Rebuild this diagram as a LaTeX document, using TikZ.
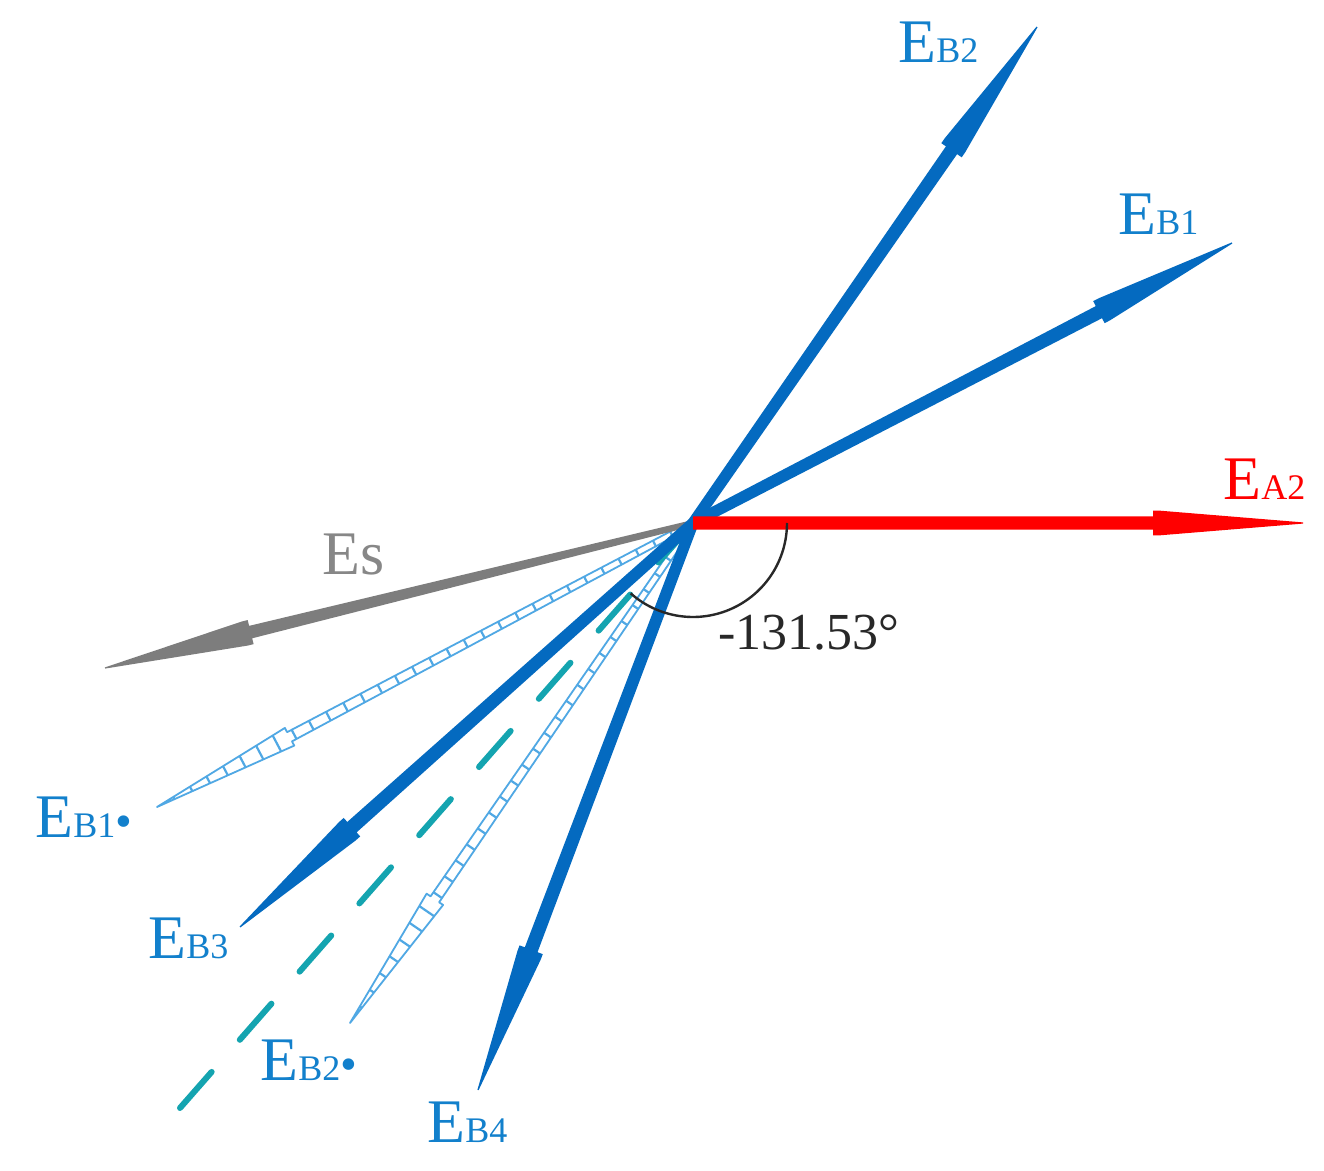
\documentclass[tikz,border=0pt]{standalone}
\usepackage{fontspec}
\setmainfont{Liberation Serif}
\usetikzlibrary{calc}
\definecolor{vblue}{RGB}{4,106,192}
\definecolor{lblue}{RGB}{18,128,204}
\definecolor{hblue}{RGB}{80,168,228}
\definecolor{vteal}{RGB}{20,164,176}
\definecolor{vgray}{RGB}{125,125,125}
\definecolor{lgray}{RGB}{135,135,135}
\definecolor{vred}{RGB}{255,0,0}
\definecolor{arcgray}{RGB}{40,40,40}
\newcommand\subsc[1]{{\fontsize{18}{18}\selectfont #1}}
\newcommand\bigdot{{\fontsize{24}{24}\selectfont •}}
% solid tapered vector: #1 colour, #2 origin, #3 tip, #4 half width at origin, #5 half width at head base
\newcommand\solidvec[5]{%
  \coordinate (vb) at ($(#3)!75pt!(#2)$);
  \coordinate (vc) at ($(vb)!3pt!(#3)$);
  \fill[#1] ($(#2)!#4!90:(vb)$) -- ($(vb)!#5!90:(#3)$) -- ($(vb)!6.2pt!90:(#3)$)
    -- ($(vc)!6.2pt!90:(#3)$) -- ($(#3)!0.3pt!-90:(vb)$) -- ($(#3)!0.3pt!90:(vb)$) -- ($(vc)!6.2pt!-90:(#3)$)
    -- ($(vb)!6.2pt!-90:(#3)$) -- ($(vb)!#5!-90:(#3)$) -- ($(#2)!#4!-90:(vb)$) -- cycle;
}
% hatched outline vector: #1 origin, #2 tip
\newcommand\hatchvec[2]{%
  \coordinate (hb) at ($(#2)!75pt!(#1)$);
  \draw[hatch] ($(#1)!1.5pt!90:(hb)$) -- ($(hb)!2.6pt!90:(#2)$) -- ($(hb)!5pt!90:(#2)$)
    -- (#2) -- ($(hb)!5pt!-90:(#2)$) -- ($(hb)!2.6pt!-90:(#2)$) -- ($(#1)!1.5pt!-90:(hb)$) -- cycle;
  \foreach \t in {0.04,0.072,...,0.97} {
    \pgfmathsetmacro{\hw}{(\t<0.752) ? (1.5+1.1*\t/0.752) : (5*(1-\t)/0.248)}
    \coordinate (hp) at ($(#1)!\t!(#2)$);
    \draw[hatch, line width=1.1pt] ($(hp)!\hw pt!90:(#2)$) -- ($(hp)!\hw pt!-90:(#2)$);
  }
}
\begin{document}
\begin{tikzpicture}[x=0.5pt,y=-0.5pt,
  lab/.style={anchor=base west, inner sep=0pt, font=\fontsize{31}{31}\selectfont},
  hatch/.style={draw=hblue, line width=0.9pt, line join=round},
  tealdash/.style={draw=vteal, line width=3pt, line cap=round, dash pattern=on 24pt off 21.35pt},
  arcline/.style={draw=arcgray, line width=1.2pt}]
\useasboundingbox (0,0) rectangle (1324,1171);
\fill[white] (0,0) rectangle (1324,1171);

\coordinate (O) at (693,523);
\coordinate (tEB2) at (1037,27);
\coordinate (tEB1) at (1232,243);
\coordinate (tEA2) at (1303,523);
\coordinate (tES) at (105,668);
\coordinate (tEB3) at (240,927);
\coordinate (tEB4) at (478,1090);
\coordinate (tEB1s) at (157,807);
\coordinate (tEB2s) at (350,1023);
\coordinate (tDash) at (180,1108);

% hatched (conjugate) vectors
\hatchvec{O}{tEB1s}
\hatchvec{O}{tEB2s}

% dashed reference line
\draw[tealdash] (tDash) -- (O);

% gray vector
\solidvec{vgray}{O}{tES}{1.5pt}{3.2pt}

% blue vectors
\solidvec{vblue}{O}{tEB2}{2.8pt}{3.4pt}
\solidvec{vblue}{O}{tEB1}{2.8pt}{3.4pt}
\solidvec{vblue}{O}{tEB3}{2.8pt}{3.5pt}
\solidvec{vblue}{O}{tEB4}{2.8pt}{3.4pt}

% red vector
\solidvec{vred}{O}{tEA2}{3.3pt}{3.3pt}

% angle arc
\draw[arcline] plot[domain=0:131.53, samples=80, smooth] ({693+94*cos(\x)},{523+94*sin(\x)});

% labels
\node[lab, text=lblue] (lEB2) at (898,63) {E\subsc{B2}};
\node[lab, text=lblue] (lEB1) at (1118,235) {E\subsc{B1}};
\node[lab, text=vred] (lEA2) at (1223,500) {E\subsc{A2}};
\node[lab, text=lgray] (lES) at (322,575) {Es};
\node[lab, text=lblue] (lEB1s) at (35,837) {E\subsc{B1}\bigdot};
\node[lab, text=lblue] (lEB3) at (148,958) {E\subsc{B3}};
\node[lab, text=lblue] (lEB2s) at (260,1080) {E\subsc{B2}\bigdot};
\node[lab, text=lblue] (lEB4) at (427,1142) {E\subsc{B4}};
\node[anchor=base west, inner sep=0pt, font=\fontsize{26}{26}\selectfont, text=arcgray] (lang) at (718,650) {-131.53°};
\end{tikzpicture}
\end{document}
